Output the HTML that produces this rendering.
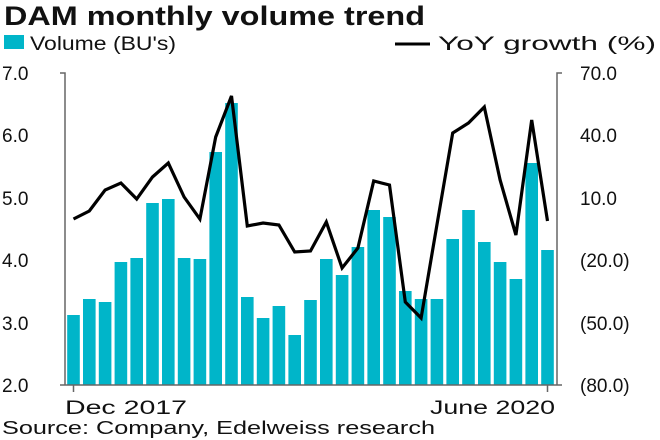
<!DOCTYPE html>
<html><head><style>body{margin:0;background:#fff}svg{display:block}text{font-family:"Liberation Sans","DejaVu Sans",sans-serif;fill:#111}</style></head>
<body><svg width="660" height="440" viewBox="0 0 660 440" xmlns="http://www.w3.org/2000/svg">
<text x="4" y="25" font-size="27" font-weight="bold" textLength="421" lengthAdjust="spacingAndGlyphs">DAM monthly volume trend</text>
<rect x="4" y="35" width="20" height="14" fill="#00b5c9"/>
<text x="30" y="50" font-size="19" textLength="146" lengthAdjust="spacingAndGlyphs">Volume (BU's)</text>
<line x1="395" y1="44" x2="430" y2="44" stroke="#000" stroke-width="3"/>
<text x="438" y="50" font-size="19" textLength="218" lengthAdjust="spacingAndGlyphs">YoY growth (%)</text>
<g fill="#00b5c9" id="bars"></g>
<polyline id="ln" fill="none" stroke="#000" stroke-width="3.2" stroke-linejoin="miter"/>
<g stroke="#666" stroke-width="1.5" fill="none">
<path d="M60 73H65V385H60M65 385H557M562 73H557V385H562"/>
<path d="M73.5 385V392M547.5 385V392"/>
</g>
<g font-size="19">
<text x="2" y="80">7.0</text><text x="2" y="142">6.0</text><text x="2" y="205">5.0</text><text x="2" y="267">4.0</text><text x="2" y="330">3.0</text><text x="2" y="392">2.0</text>
<text x="580" y="80">70.0</text><text x="580" y="142">40.0</text><text x="580" y="205">10.0</text><text x="580" y="267">(20.0)</text><text x="580" y="330">(50.0)</text><text x="580" y="392">(80.0)</text>
<text x="65" y="414" textLength="122" lengthAdjust="spacingAndGlyphs">Dec 2017</text>
<text x="430" y="414" textLength="125" lengthAdjust="spacingAndGlyphs">June 2020</text>
</g>
<text x="2" y="434" font-size="18" textLength="433" lengthAdjust="spacingAndGlyphs">Source: Company, Edelweiss research</text>
<script>
var tops=[315,299,302,262,258,203,199,258,259,152,103,297,318,306,335,300,259,275,247,210,217,291,299,299,239,210,242,262,279,163,250];
var ly=[219,211,190,183,199,177,163,197,219,137,96,226,223,225,252,251,222,268,248,181,185,302,318,225,133,123,107,180,235,120,221];
var g=document.getElementById('bars'),pts=[];
for(var i=0;i<31;i++){var c=73.5+i*15.8;var r=document.createElementNS('http://www.w3.org/2000/svg','rect');
r.setAttribute('x',c-6.3);r.setAttribute('width',12.6);r.setAttribute('y',tops[i]);r.setAttribute('height',385-tops[i]);g.appendChild(r);pts.push(c+','+ly[i]);}
document.getElementById('ln').setAttribute('points',pts.join(' '));
</script>
</svg></body></html>
